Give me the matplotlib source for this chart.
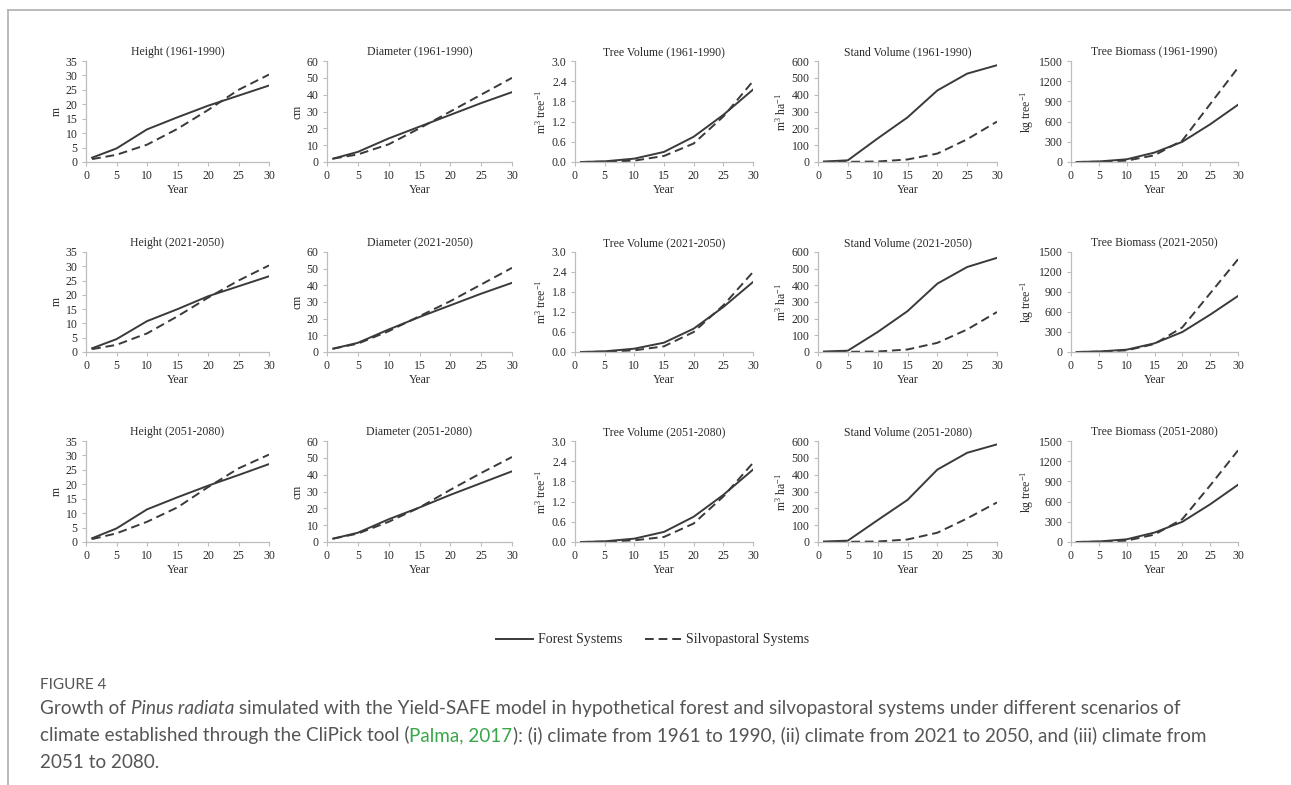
"""Pinus radiata growth panels (Yield-SAFE), 3 climate periods x 5 variables."""
import matplotlib
matplotlib.use("Agg")
import matplotlib.pyplot as plt
from matplotlib.lines import Line2D

plt.rcParams["font.family"] = ["Liberation Serif", "DejaVu Serif"]
plt.rcParams["mathtext.fontset"] = "custom"
plt.rcParams["mathtext.rm"] = "Liberation Serif"
plt.rcParams["mathtext.it"] = "Liberation Serif:italic"

# ── data ─────────────────────────────────────────────────────────────────────
years = [1, 5, 10, 15, 20, 25, 30]
periods = ["1961-1990", "2021-2050", "2051-2080"]
variables = ["Height", "Diameter", "Tree Volume", "Stand Volume", "Tree Biomass"]
ylabels = ["m", "cm", r"$\mathrm{m^3\ tree^{-1}}$", r"$\mathrm{m^3\ ha^{-1}}$",
           r"$\mathrm{kg\ tree^{-1}}$"]
yticks = [
    [0, 5, 10, 15, 20, 25, 30, 35],
    [0, 10, 20, 30, 40, 50, 60],
    [0.0, 0.6, 1.2, 1.8, 2.4, 3.0],
    [0, 100, 200, 300, 400, 500, 600],
    [0, 300, 600, 900, 1200, 1500],
]

# forest systems, one list per period
height_forest = [
    [1.5, 4.7, 11.3, 15.5, 19.5, 23.0, 26.5],
    [1.3, 4.5, 10.8, 15.0, 19.5, 23.0, 26.5],
    [1.3, 4.7, 11.3, 15.5, 19.5, 23.2, 27.0],
]
height_silvo = [
    [1.0, 2.5, 6.0, 11.5, 18.0, 25.0, 30.3],
    [1.0, 2.5, 6.5, 12.5, 19.0, 25.0, 30.3],
    [1.0, 3.0, 7.0, 12.0, 19.0, 25.5, 30.3],
]
diameter_forest = [
    [2.0, 6.0, 14.0, 21.0, 28.0, 35.0, 41.5],
    [2.0, 5.5, 13.5, 21.0, 28.0, 35.0, 41.5],
    [2.0, 5.5, 13.5, 20.5, 28.0, 35.0, 42.0],
]
diameter_silvo = [
    [2.0, 4.5, 10.5, 20.0, 30.0, 40.0, 50.0],
    [2.0, 5.0, 12.5, 21.5, 30.5, 40.5, 50.5],
    [2.0, 5.0, 12.0, 20.5, 31.0, 41.0, 50.5],
]
treevol_forest = [
    [0.0, 0.02, 0.10, 0.30, 0.75, 1.40, 2.15],
    [0.0, 0.02, 0.10, 0.28, 0.70, 1.35, 2.10],
    [0.0, 0.02, 0.10, 0.30, 0.75, 1.40, 2.15],
]
treevol_silvo = [
    [0.0, 0.01, 0.04, 0.18, 0.55, 1.35, 2.40],
    [0.0, 0.01, 0.05, 0.17, 0.60, 1.40, 2.40],
    [0.0, 0.01, 0.05, 0.15, 0.55, 1.35, 2.35],
]
standvol_forest = [
    [3, 10, 140, 265, 425, 525, 575],
    [3, 8, 120, 245, 410, 510, 565],
    [3, 8, 130, 250, 430, 530, 580],
]
standvol_silvo = [
    [0, 1, 3, 15, 50, 135, 240],
    [0, 1, 3, 15, 55, 135, 240],
    [0, 1, 3, 15, 55, 140, 235],
]
biomass_forest = [
    [0, 8, 40, 140, 300, 560, 850],
    [0, 8, 35, 130, 300, 560, 840],
    [0, 8, 40, 140, 300, 560, 850],
]
biomass_silvo = [
    [0, 4, 20, 100, 320, 860, 1400],
    [0, 5, 25, 120, 370, 880, 1390],
    [0, 5, 20, 110, 340, 840, 1360],
]

forest = [height_forest, diameter_forest, treevol_forest, standvol_forest, biomass_forest]
silvo = [height_silvo, diameter_silvo, treevol_silvo, standvol_silvo, biomass_silvo]

# ── layout (pixels of a 1291x785 canvas) ─────────────────────────────────────
W, H = 1291, 785
col_x = [(86, 183), (327, 185), (575, 178), (818, 179), (1071, 167)]
row_y = [(61, 162), (252, 352), (441, 542)]
LINE_COLOR = "#3a3a3a"
AXIS_COLOR = "#bdbdbd"
TEXT_COLOR = "#2a2a2a"
DASH = (0, (4.5, 2.5))

fig = plt.figure(figsize=(W / 100, H / 100), dpi=100)

for r, period in enumerate(periods):
    top, bottom = row_y[r]
    for c, var in enumerate(variables):
        x0, w = col_x[c]
        ax = fig.add_axes([x0 / W, 1 - bottom / H, w / W, (bottom - top) / H])
        ax.plot(years, forest[c][r], color=LINE_COLOR, linewidth=1.4)
        ax.plot(years, silvo[c][r], color=LINE_COLOR, linewidth=1.4, linestyle=DASH)
        ax.set_xlim(0, 30)
        ax.set_ylim(yticks[c][0], yticks[c][-1])
        ax.set_xticks([0, 5, 10, 15, 20, 25, 30])
        ax.set_yticks(yticks[c])
        if c == 2:
            ax.set_yticklabels([f"{v:.1f}" for v in yticks[c]])
        for s in ("top", "right"):
            ax.spines[s].set_visible(False)
        for s in ("left", "bottom"):
            ax.spines[s].set_color(AXIS_COLOR)
            ax.spines[s].set_linewidth(0.9)
        ax.tick_params(colors=AXIS_COLOR, labelcolor=TEXT_COLOR, labelsize=8.5,
                       length=3, width=0.8, pad=3)
        ax.set_title(f"{var} ({period})", fontsize=8.5, color=TEXT_COLOR, pad=4)
        ax.set_xlabel("Year", fontsize=8.5, color=TEXT_COLOR, labelpad=1)
        ax.set_ylabel(ylabels[c], fontsize=8.5, color=TEXT_COLOR, labelpad=2)
        ax.patch.set_visible(False)

# legend
handles = [
    Line2D([], [], color=LINE_COLOR, linewidth=1.4),
    Line2D([], [], color=LINE_COLOR, linewidth=1.4, linestyle=DASH),
]
fig.legend(handles, ["Forest Systems", "Silvopastoral Systems"], loc="center",
           bbox_to_anchor=(653 / W, 1 - 640 / H), ncol=2, frameon=False,
           fontsize=10, labelcolor=TEXT_COLOR, handlelength=2.6,
           columnspacing=1.6, handletextpad=0.4)

# page frame (top and left rules)
fig.add_artist(Line2D([8 / W, 1], [1 - 10 / H] * 2, color="#b5b5b5", linewidth=1.3))
fig.add_artist(Line2D([8 / W] * 2, [0, 1 - 10 / H], color="#b5b5b5", linewidth=1.3))

# ── caption ──────────────────────────────────────────────────────────────────
CAP = dict(family=["Lato", "DejaVu Sans"], fontsize=13.6, color="#555555",
           va="baseline", weight="normal")


def draw_runs(x_px, y_px, runs):
    renderer = fig.canvas.get_renderer()
    x = x_px / W
    for text, extra in runs:
        t = fig.text(x, 1 - y_px / H, text, **{**CAP, **extra})
        x += t.get_window_extent(renderer).width / fig.bbox.width


fig.text(40 / W, 1 - 689 / H, "FIGURE 4", family=["Lato", "DejaVu Sans"],
         fontsize=11, color="#555555", va="baseline")
draw_runs(40, 714, [
    ("Growth of ", {}),
    ("Pinus radiata", {"style": "italic"}),
    (" simulated with the Yield-SAFE model in hypothetical forest and silvopastoral "
     "systems under different scenarios of", {}),
])
draw_runs(40, 741, [
    ("climate established through the CliPick tool (", {}),
    ("Palma, 2017", {"color": "#3aa64a"}),
    ("): (i) climate from 1961 to 1990, (ii) climate from 2021 to 2050, and (iii) "
     "climate from", {}),
])
draw_runs(40, 768, [("2051 to 2080.", {})])

fig.savefig("out.png", dpi=100)
